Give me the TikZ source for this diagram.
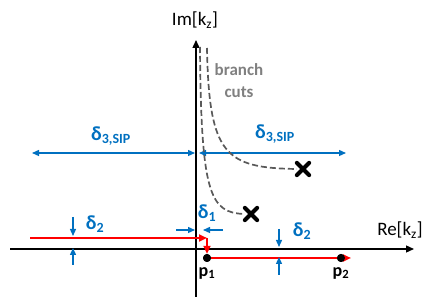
\documentclass[tikz,border=0pt]{standalone}
\usepackage{fontspec}
\setmainfont{Carlito}
\usetikzlibrary{arrows.meta,shapes.misc,positioning}
\definecolor{deltaBlue}{RGB}{0,112,192}
\definecolor{cutGray}{RGB}{89,89,89}
\definecolor{cutText}{RGB}{128,128,128}
\definecolor{pathRed}{RGB}{255,0,0}

\begin{document}
\begin{tikzpicture}[x=1pt,y=1pt,
  ax/.style={-{Triangle[length=8pt,width=7pt]},line width=1.3pt,black},
  dim/.style={-{Triangle[length=7pt,width=6pt]},line width=1.3pt,deltaBlue},
  dimboth/.style={{Triangle[length=7pt,width=6pt]}-{Triangle[length=7pt,width=6pt]},line width=1.3pt,deltaBlue},
  cut/.style={line width=1.7pt,cutGray,dash pattern=on 6pt off 3pt},
  arr/.style={-{Triangle[length=8pt,width=7pt]},line width=2.2pt,pathRed},
  lbl/.style={font=\fontsize{20}{22}\selectfont\bfseries,text=deltaBlue,inner sep=0pt},
  pole/.style={cross out,draw=black,line width=4.2pt,line cap=round,minimum size=8pt,inner sep=0pt},
  pt/.style={circle,fill=black,inner sep=0pt,minimum size=8pt},
  axlbl/.style={font=\fontsize{19}{22}\selectfont,inner sep=0pt},
  plbl/.style={font=\fontsize{18}{20}\selectfont\bfseries,inner sep=0pt}
]
  \useasboundingbox (0,0) rectangle (445,305);

  % axes
  \coordinate (reS) at (10,56);
  \coordinate (reE) at (414,56);
  \coordinate (imS) at (196,8);
  \coordinate (imE) at (196,265);
  \draw[ax](reS)--(reE);
  \draw[ax](imS)--(imE);
  \node[axlbl](imLbl) at (195,285) {Im[k\textsubscript{z}]};
  \node[axlbl](reLbl) at (400,75)  {Re[k\textsubscript{z}]};

  % delta_3,SIP
  \coordinate (sipL)  at (32,152);
  \coordinate (sipM1) at (195,152);
  \coordinate (sipM2) at (199,152);
  \coordinate (sipR)  at (346,152);
  \draw[dimboth](sipL)--(sipM1);
  \draw[dimboth](sipM2)--(sipR);
  \node[lbl](sipLblL) at (111,169) {δ\textsubscript{3,SIP}};
  \node[lbl](sipLblR) at (275,171) {δ\textsubscript{3,SIP}};

  % branch cuts
  \coordinate (cutA) at (200,258);
  \coordinate (cutB) at (207,257);
  \node[pole](poleA) at (251,91) {};
  \node[pole](poleB) at (303,136) {};
  \draw[cut](cutA) .. controls (201,110) and (210,92) .. (poleA.west);
  \draw[cut](cutB) .. controls (209,150) and (225,137) .. (poleB.west);
  \node[font=\fontsize{17}{22}\selectfont\bfseries,text=cutText,align=center](cutLbl) at (239,224) {branch\\cuts};

  % integration path
  \coordinate (redS) at (30,67);
  \coordinate (redC) at (207,67);
  \coordinate (redE) at (351,47);
  \node[pt](pA) at (207,47) {};
  \node[pt](pB) at (341,47) {};
  \draw[arr](redS)--(redC);
  \draw[arr](redC)--(pA.north);
  \draw[arr](pA)--(redE);
  \node[pt] at (pA) {};
  \node[pt] at (pB) {};
  \node[plbl,below=5pt of pA](pALbl) {p\textsubscript{1}};
  \node[plbl,below=5pt of pB](pBLbl) {p\textsubscript{2}};

  % delta_1
  \coordinate (d1a) at (176,75);
  \coordinate (d1b) at (195,75);
  \coordinate (d1c) at (223,75);
  \coordinate (d1d) at (203,75);
  \draw[dim](d1a)--(d1b);
  \draw[dim](d1c)--(d1d);
  \node[lbl](d1Lbl) at (207,92) {δ\textsubscript{1}};

  % delta_2 left
  \coordinate (d2a) at (73,88);
  \coordinate (d2b) at (73,69);
  \coordinate (d2c) at (73,40);
  \coordinate (d2d) at (73,57);
  \draw[dim](d2a)--(d2b);
  \draw[dim](d2c)--(d2d);
  \node[lbl](d2LblL) at (95,81) {δ\textsubscript{2}};

  % delta_2 right
  \coordinate (d2e) at (279,76);
  \coordinate (d2f) at (279,58);
  \coordinate (d2g) at (279,30);
  \coordinate (d2h) at (279,48);
  \draw[dim](d2e)--(d2f);
  \draw[dim](d2g)--(d2h);
  \node[lbl](d2LblR) at (302,74) {δ\textsubscript{2}};
\end{tikzpicture}
\end{document}
